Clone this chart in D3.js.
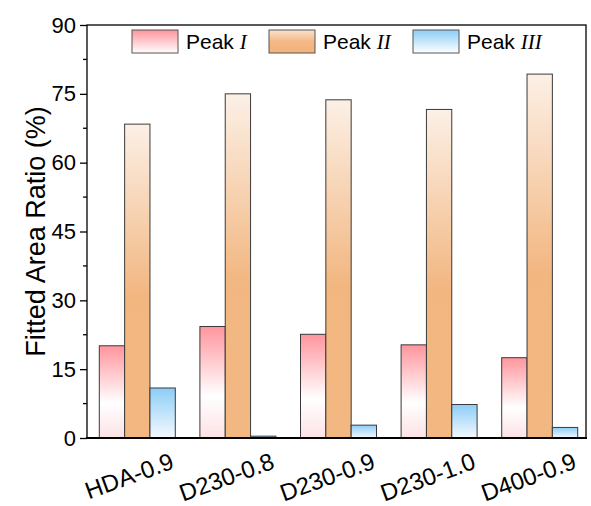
<!DOCTYPE html>
<html>
<head>
<meta charset="utf-8">
<script src="https://cdn.jsdelivr.net/npm/d3@7"></script>
<style>
  html, body { margin: 0; padding: 0; background: #fff; }
  svg { display: block; font-family: "Liberation Sans", Arial, sans-serif; }
  .roman { font-family: "Liberation Serif", "Times New Roman", serif; font-style: italic; }
</style>
</head>
<body>
<svg id="chart" width="591" height="506"></svg>
<script>
// --- Data ---
const categories = ['HDA-0.9', 'D230-0.8', 'D230-0.9', 'D230-1.0', 'D400-0.9'];
const series = ['Peak I', 'Peak II', 'Peak III'];
const romanLabels = ['I', 'II', 'III'];
const peakI   = [20.1, 24.3, 22.6, 20.3, 17.5];
const peakII  = [68.4, 75.0, 73.7, 71.6, 79.3];
const peakIII = [10.9, 0.4, 2.8, 7.3, 2.3];
const yTicks = [0, 15, 30, 45, 60, 75, 90];

const values = [peakI, peakII, peakIII];

// --- Layout ---
const M = { left: 87, top: 25 };
const plotRight = 586;
const plotBottom = 438;

const svg = d3.select('#chart');

// gradients
const defs = svg.append('defs');
const gradStops = [
    [[0, '#ff959d'], [0.62, '#ffffff'], [1, '#fde2e5']],
    [[0, '#fcf0e6'], [0.55, '#f2b680'], [1, '#f3b882']],
    [[0, '#8ccdf6'], [1, '#f4faff']]
];
gradStops.forEach((stops, i) => {
    const g = defs.append('linearGradient')
        .attr('id', 'grad' + i)
        .attr('x1', 0).attr('y1', 0).attr('x2', 0).attr('y2', 1);
    stops.forEach(s => g.append('stop').attr('offset', s[0]).attr('stop-color', s[1]));
});
// legend swatches: plain top→bottom fades
const legStops = [
    [[0, '#ff959d'], [1, '#ffffff']],
    [[0, '#fbe3cf'], [0.5, '#f3b884'], [1, '#f2b27c']],
    [[0, '#8ccdf6'], [1, '#ffffff']]
];
legStops.forEach((stops, i) => {
    const g = defs.append('linearGradient')
        .attr('id', 'leg' + i)
        .attr('x1', 0).attr('y1', 0).attr('x2', 0).attr('y2', 1);
    stops.forEach(s => g.append('stop').attr('offset', s[0]).attr('stop-color', s[1]));
});

// --- Scales ---
const x0 = d3.scaleBand()
    .domain(categories)
    .range([M.left, 590]);

const groupW = 76;
const x1 = d3.scaleBand()
    .domain(series)
    .range([0, groupW]);

const y = d3.scaleLinear()
    .domain([0, 90])
    .range([plotBottom, M.top]);

// --- Bars ---
const rows = [];
categories.forEach((c, ci) => {
    series.forEach((s, si) => {
        rows.push({ cat: c, ser: s, si, v: values[si][ci] });
    });
});

svg.append('g')
    .selectAll('rect')
    .data(rows)
    .join('rect')
    .attr('x', d => x0(d.cat) + (x0.bandwidth() - groupW) / 2 + x1(d.ser))
    .attr('y', d => y(d.v))
    .attr('width', x1.bandwidth())
    .attr('height', d => y(0) - y(d.v))
    .attr('fill', d => `url(#grad${d.si})`)
    .attr('stroke', '#3a3a3a')
    .attr('stroke-width', 1);

// --- Y axis ---
const yAxis = d3.axisLeft(y)
    .tickValues(yTicks)
    .tickSize(7)
    .tickPadding(4)
    .tickFormat(d3.format('d'));

const yG = svg.append('g')
    .attr('transform', `translate(${M.left},0)`)
    .call(yAxis);
yG.select('.domain').remove();
yG.selectAll('line').attr('stroke', '#000').attr('stroke-width', 1.3);
yG.selectAll('text').attr('font-size', 22).attr('fill', '#000');

// minor ticks
const minor = d3.range(7.5, 90, 15);
svg.append('g')
    .selectAll('line')
    .data(minor)
    .join('line')
    .attr('x1', M.left - 4).attr('x2', M.left)
    .attr('y1', d => y(d)).attr('y2', d => y(d))
    .attr('stroke', '#000').attr('stroke-width', 1.3);

// frame
svg.append('rect')
    .attr('x', M.left).attr('y', M.top)
    .attr('width', plotRight - M.left).attr('height', plotBottom - M.top)
    .attr('fill', 'none').attr('stroke', '#000').attr('stroke-width', 1.3);
svg.append('line')
    .attr('x1', M.left - 1).attr('x2', plotRight + 1)
    .attr('y1', plotBottom).attr('y2', plotBottom)
    .attr('stroke', '#000').attr('stroke-width', 2.2);

// --- X labels ---
svg.append('g')
    .selectAll('text')
    .data(categories)
    .join('text')
    .attr('transform', d => `translate(${x0(d) + x0.bandwidth() / 2 + 38},${plotBottom + 30}) rotate(-20)`)
    .attr('text-anchor', 'end')
    .attr('font-size', 24)
    .text(d => d);

// --- Y title ---
svg.append('text')
    .attr('transform', `translate(45,${(M.top + plotBottom) / 2}) rotate(-90)`)
    .attr('text-anchor', 'middle')
    .attr('font-size', 27)
    .text('Fitted Area Ratio (%)');

// --- Legend ---
const legX = [132, 269, 413];
const leg = svg.append('g');
series.forEach((s, i) => {
    leg.append('rect')
        .attr('x', legX[i]).attr('y', 30)
        .attr('width', 46).attr('height', 23)
        .attr('fill', `url(#leg${i})`)
        .attr('stroke', '#555').attr('stroke-width', 1);
    const t = leg.append('text')
        .attr('x', legX[i] + 54).attr('y', 49)
        .attr('font-size', 21);
    t.append('tspan').text('Peak ');
    t.append('tspan').attr('class', 'roman').text(romanLabels[i]);
});
</script>
</body>
</html>
